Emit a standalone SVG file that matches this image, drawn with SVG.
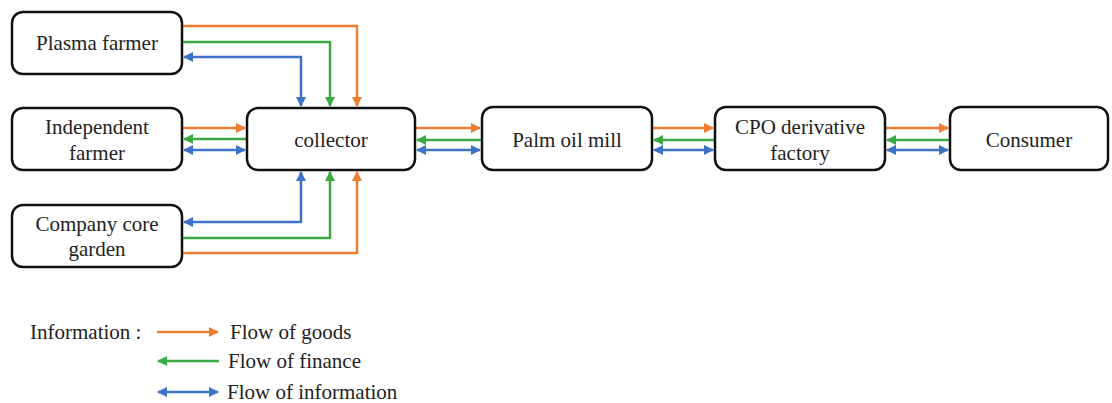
<svg xmlns="http://www.w3.org/2000/svg" width="1112" height="403" viewBox="0 0 1112 403" font-family="'Liberation Serif', 'Times New Roman', serif">
<style>
.box{fill:#fff;stroke:#111;stroke-width:2.5}
text{font-family:"Liberation Serif","Times New Roman",serif;font-size:21px;fill:#222}
.t{text-anchor:middle}
.o{stroke:#EE7D31;stroke-width:2.5;fill:none}
.g{stroke:#3BAA45;stroke-width:2.5;fill:none}
.b{stroke:#3E72C6;stroke-width:2.5;fill:none}
</style>
<defs>
<marker id="ao" viewBox="0 0 10 10" refX="9" refY="5" markerWidth="4" markerHeight="4" orient="auto-start-reverse"><path d="M0,0L10,5L0,10z" fill="#EE7D31"/></marker>
<marker id="ag" viewBox="0 0 10 10" refX="9" refY="5" markerWidth="4" markerHeight="4" orient="auto-start-reverse"><path d="M0,0L10,5L0,10z" fill="#3BAA45"/></marker>
<marker id="ab" viewBox="0 0 10 10" refX="9" refY="5" markerWidth="4" markerHeight="4" orient="auto-start-reverse"><path d="M0,0L10,5L0,10z" fill="#3E72C6"/></marker>
</defs>
<g id="connectors">
<path class="o" d="M182,26H357V106" marker-end="url(#ao)"/>
<path class="g" d="M182,42H330V106" marker-end="url(#ag)"/>
<path class="b" d="M184,57H301V106" marker-start="url(#ab)" marker-end="url(#ab)"/>
<path class="o" d="M182,128H245" marker-end="url(#ao)"/>
<path class="g" d="M247,139H184" marker-end="url(#ag)"/>
<path class="b" d="M184,150H245" marker-start="url(#ab)" marker-end="url(#ab)"/>
<path class="b" d="M184,222H301V172" marker-start="url(#ab)" marker-end="url(#ab)"/>
<path class="g" d="M182,238H330V172" marker-end="url(#ag)"/>
<path class="o" d="M182,253H357V172" marker-end="url(#ao)"/>
<path class="o" d="M415,128H480" marker-end="url(#ao)"/>
<path class="g" d="M482,140H417" marker-end="url(#ag)"/>
<path class="b" d="M417,150H480" marker-start="url(#ab)" marker-end="url(#ab)"/>
<path class="o" d="M652,128H713" marker-end="url(#ao)"/>
<path class="g" d="M715,140H654" marker-end="url(#ag)"/>
<path class="b" d="M654,150H713" marker-start="url(#ab)" marker-end="url(#ab)"/>
<path class="o" d="M885,128H948" marker-end="url(#ao)"/>
<path class="g" d="M950,140H887" marker-end="url(#ag)"/>
<path class="b" d="M887,150H948" marker-start="url(#ab)" marker-end="url(#ab)"/>
</g>
<g id="plasma"><rect class="box" x="12" y="12" width="170" height="62" rx="11"/><text class="t" x="97" y="50">Plasma farmer</text></g>
<g id="independent"><rect class="box" x="12" y="108" width="170" height="62" rx="11"/><text class="t" x="97" y="134">Independent</text><text class="t" x="97" y="160">farmer</text></g>
<g id="company"><rect class="box" x="12" y="205" width="170" height="62" rx="11"/><text class="t" x="97" y="231">Company core</text><text class="t" x="97" y="256">garden</text></g>
<g id="collector"><rect class="box" x="247" y="108" width="168" height="62" rx="11"/><text class="t" x="331" y="147">collector</text></g>
<g id="mill"><rect class="box" x="482" y="107" width="170" height="63" rx="11"/><text class="t" x="567" y="147">Palm oil mill</text></g>
<g id="cpo"><rect class="box" x="715" y="107" width="170" height="63" rx="11"/><text class="t" x="800" y="134">CPO derivative</text><text class="t" x="800" y="160">factory</text></g>
<g id="consumer"><rect class="box" x="950" y="107" width="158" height="63" rx="11"/><text class="t" x="1029" y="147">Consumer</text></g>
<g id="legend">
<text x="30" y="339">Information :</text>
<path class="o" d="M157,332H218" marker-end="url(#ao)"/>
<text x="230" y="339">Flow of goods</text>
<path class="g" d="M219,361H158" marker-end="url(#ag)"/>
<text x="228" y="368">Flow of finance</text>
<path class="b" d="M158,392H218" marker-start="url(#ab)" marker-end="url(#ab)"/>
<text x="227" y="399">Flow of information</text>
</g>
</svg>
